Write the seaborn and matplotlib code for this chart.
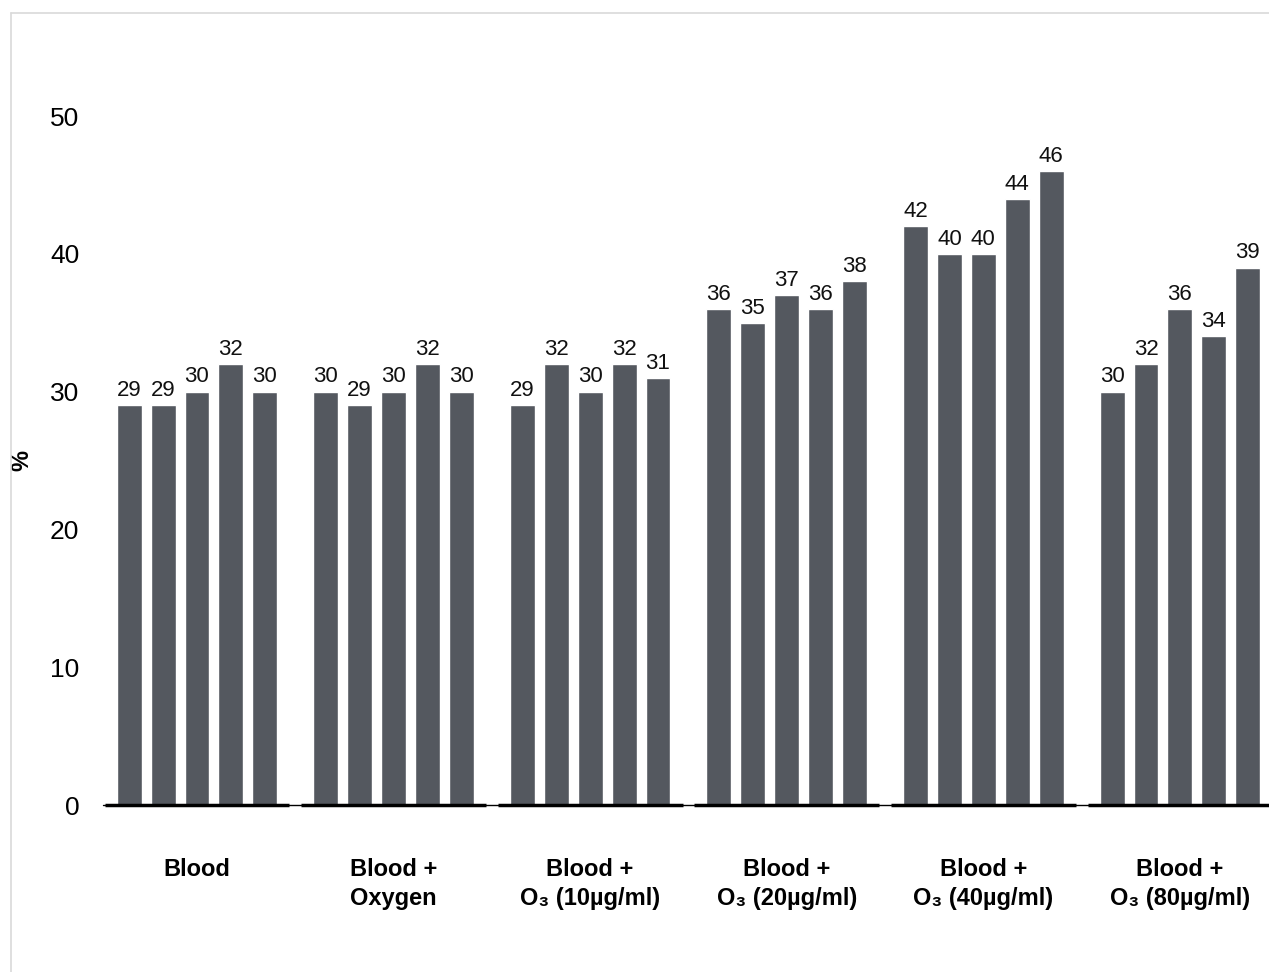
import pandas as pd
import matplotlib.pyplot as plt
import seaborn as sns
from matplotlib.lines import Line2D

# -----------------------------
# Data
# -----------------------------
groups = [
    "Blood",
    "Blood +\nOxygen",
    "Blood +\nO\u2083 (10µg/ml)",
    "Blood +\nO\u2083 (20µg/ml)",
    "Blood +\nO\u2083 (40µg/ml)",
    "Blood +\nO\u2083 (80µg/ml)",
]
replicates = [1, 2, 3, 4, 5]
blood = [29, 29, 30, 32, 30]
oxygen = [30, 29, 30, 32, 30]
o3_10 = [29, 32, 30, 32, 31]
o3_20 = [36, 35, 37, 36, 38]
o3_40 = [42, 40, 40, 44, 46]
o3_80 = [30, 32, 36, 34, 39]
yticks = [0, 10, 20, 30, 40, 50]

series = [blood, oxygen, o3_10, o3_20, o3_40, o3_80]
rows = []
for g, vals in zip(groups, series):
    for r, v in zip(replicates, vals):
        rows.append({"group": g, "rep": r, "value": v})
df = pd.DataFrame(rows)

bar_color = "#54585f"

sns.set_style("white")
plt.rcParams["font.family"] = ["Liberation Sans", "DejaVu Sans"]

fig = plt.figure(figsize=(12.69, 9.72), dpi=100)
ax = fig.add_axes([103 / 1269, 1 - 805 / 972, 1 - 103 / 1269, (805 - 116) / 972])

sns.barplot(
    data=df, x="group", y="value", hue="rep",
    palette=[bar_color] * len(replicates),
    width=0.863, gap=0.265, legend=False, ax=ax,
    saturation=1, errorbar=None,
)

for cont in ax.containers:
    ax.bar_label(cont, padding=3, fontsize=16, color="#111111")

ax.set_ylim(0, 50)
ax.set_xlim(-0.478, 5.453)
ax.set_yticks(yticks)
ax.tick_params(axis="y", length=0, pad=17, labelsize=19, labelcolor="black")
ax.tick_params(axis="x", length=0, pad=38, labelcolor="black")
for lab in ax.get_xticklabels():
    lab.set_fontweight("bold")
    lab.set_fontsize(17)
    lab.set_verticalalignment("top")
    lab.set_linespacing(1.35)

ax.set_xlabel("")
ax.set_ylabel("%", fontsize=17, fontweight="bold", color="black")
ax.yaxis.set_label_coords(-0.06, 0.5)

sns.despine(ax=ax, left=True, bottom=True, top=True, right=True)

# baseline: thin line with thicker segments under each group
ax.axhline(0, color="black", lw=1, clip_on=False)
centers = list(range(len(groups)))
ax.hlines([0] * len(centers), [c - 0.47 for c in centers], [c + 0.47 for c in centers],
          color="black", lw=2.5, clip_on=False)

# light frame around the figure
fig.add_artist(Line2D([11 / 1269, 11 / 1269], [0, 1 - 13 / 972], color="#d9d9d9", lw=1.2))
fig.add_artist(Line2D([11 / 1269, 1], [1 - 13 / 972, 1 - 13 / 972], color="#d9d9d9", lw=1.2))

fig.savefig("out.png", dpi=100)
